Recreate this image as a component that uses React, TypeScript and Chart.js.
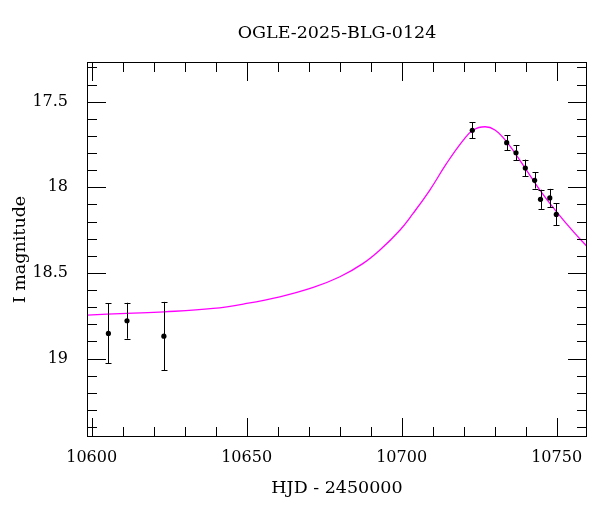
import { useEffect, useRef } from "react";
import { Chart, registerables } from "chart.js";

Chart.register(...registerables);

const TITLE = "OGLE-2025-BLG-0124";
const X_TITLE = "HJD - 2450000";
const Y_TITLE = "I magnitude";

// Observations (HJD - 2450000, I mag, 1-sigma error)
const obsHJD = [10605.4, 10611.4, 10623.3, 10722.8, 10733.9, 10736.9, 10739.9, 10742.9, 10744.8, 10747.8, 10749.9];
const obsMag = [18.853, 18.779, 18.869, 17.667, 17.739, 17.798, 17.887, 17.959, 18.07, 18.062, 18.158];
const obsErr = [0.175, 0.105, 0.2, 0.047, 0.044, 0.043, 0.049, 0.048, 0.056, 0.053, 0.064];

// Model light curve
const modelHJD = [10598.6, 10611.4, 10623.4, 10639.2, 10650.0, 10660.7, 10671.5, 10680.1, 10687.6, 10693.0, 10699.5, 10703.7, 10709.1, 10714.5, 10719.9, 10723.1, 10726.9, 10730.1, 10733.9, 10739.2, 10744.6, 10750.0, 10755.4, 10759.9];
const modelMag = [18.746, 18.736, 18.727, 18.707, 18.678, 18.639, 18.584, 18.522, 18.444, 18.366, 18.249, 18.152, 18.016, 17.86, 17.724, 17.665, 17.646, 17.665, 17.734, 17.87, 18.016, 18.143, 18.259, 18.347];

const xTickValues = [10600, 10650, 10700, 10750];
const yTickValues = [17.5, 18, 18.5, 19];

const X_MIN = 10598.5;
const X_MAX = 10759.8;
const Y_MIN = 17.268;
const Y_MAX = 19.458;

const FONT_FAMILY = "'DejaVu Serif', 'Liberation Serif', serif";

const framePlugin = {
  id: "frameTicks",
  afterDraw(chart: any) {
    const { ctx, chartArea: a, scales } = chart;
    const xs = scales.x;
    const ys = scales.y;
    ctx.save();
    ctx.strokeStyle = "#000";
    ctx.lineWidth = 1;
    const line = (x1: number, y1: number, x2: number, y2: number) => {
      ctx.beginPath();
      ctx.moveTo(x1, y1);
      ctx.lineTo(x2, y2);
      ctx.stroke();
    };
    ctx.strokeRect(a.left + 0.5, a.top + 0.5, a.right - a.left - 1, a.bottom - a.top - 1);
    for (let k = 10600; k <= 10760; k += 10) {
      if (k < X_MIN || k > X_MAX) continue;
      const px = Math.round(xs.getPixelForValue(k)) + 0.5;
      const len = k % 50 === 0 ? 19 : 10;
      line(px, a.bottom, px, a.bottom - len);
      line(px, a.top, px, a.top + len);
    }
    for (let k = 173; k <= 194; k++) {
      const v = k / 10;
      if (v < Y_MIN || v > Y_MAX) continue;
      const py = Math.round(ys.getPixelForValue(v)) + 0.5;
      const len = k % 5 === 0 ? 19 : 10;
      line(a.left, py, a.left + len, py);
      line(a.right, py, a.right - len, py);
    }
    ctx.fillStyle = "#000";
    ctx.font = `17.5px ${FONT_FAMILY}`;
    ctx.textAlign = "center";
    ctx.textBaseline = "middle";
    ctx.fillText(TITLE, (a.left + a.right) / 2, 33);
    ctx.restore();
  },
};

const errorBarPlugin = {
  id: "errorBars",
  afterDatasetsDraw(chart: any) {
    const { ctx, scales } = chart;
    const xs = scales.x;
    const ys = scales.y;
    ctx.save();
    ctx.strokeStyle = "#000";
    ctx.lineWidth = 1;
    for (let i = 0; i < obsHJD.length; i++) {
      const px = Math.round(xs.getPixelForValue(obsHJD[i])) + 0.5;
      const y1 = ys.getPixelForValue(obsMag[i] - obsErr[i]);
      const y2 = ys.getPixelForValue(obsMag[i] + obsErr[i]);
      ctx.beginPath();
      ctx.moveTo(px, y1);
      ctx.lineTo(px, y2);
      ctx.moveTo(px - 3, Math.round(y1) + 0.5);
      ctx.lineTo(px + 3, Math.round(y1) + 0.5);
      ctx.moveTo(px - 3, Math.round(y2) + 0.5);
      ctx.lineTo(px + 3, Math.round(y2) + 0.5);
      ctx.stroke();
    }
    ctx.restore();
  },
};

export default function App() {
  const ref = useRef<HTMLCanvasElement | null>(null);

  useEffect(() => {
    if (!ref.current) return;
    const font = { family: FONT_FAMILY, size: 16 };
    const titleFont = { family: FONT_FAMILY, size: 17.5 };
    const chart = new Chart(ref.current, {
      type: "line",
      data: {
        datasets: [
          {
            label: "data",
            type: "scatter",
            data: obsHJD.map((x, i) => ({ x, y: obsMag[i] })),
            backgroundColor: "#000",
            borderColor: "#000",
            borderWidth: 0,
            pointRadius: 2.6,
            showLine: false,
            order: 0,
          } as any,
          {
            label: "model",
            type: "line",
            data: modelHJD.map((x, i) => ({ x, y: modelMag[i] })),
            borderColor: "#ff00ff",
            borderWidth: 1.3,
            pointRadius: 0,
            fill: false,
            tension: 0.4,
            order: 1,
          } as any,
        ],
      },
      options: {
        responsive: false,
        animation: false,
        layout: { padding: { top: 62, right: 13, left: 0, bottom: 0 } },
        plugins: {
          legend: { display: false },
          tooltip: { enabled: false },
          title: { display: false },
        },
        scales: {
          x: {
            type: "linear",
            min: X_MIN,
            max: X_MAX,
            afterBuildTicks: (s: any) => {
              s.ticks = xTickValues.map((v) => ({ value: v }));
            },
            afterFit: (s: any) => {
              s.height = 75;
            },
            ticks: {
              callback: (v: any) => String(v),
              font,
              color: "#000",
              padding: 11,
              maxRotation: 0,
              autoSkip: false,
            },
            grid: { display: false, drawTicks: false },
            border: { display: false },
            title: {
              display: true,
              text: X_TITLE,
              font: titleFont,
              color: "#000",
              padding: { top: 0, bottom: 13 },
            },
          },
          y: {
            type: "linear",
            reverse: true,
            min: Y_MIN,
            max: Y_MAX,
            afterBuildTicks: (s: any) => {
              s.ticks = yTickValues.map((v) => ({ value: v }));
            },
            afterFit: (s: any) => {
              s.width = 87;
            },
            ticks: {
              callback: (v: any) => String(v),
              font,
              color: "#000",
              padding: 19,
              autoSkip: false,
            },
            grid: { display: false, drawTicks: false },
            border: { display: false },
            title: {
              display: true,
              text: Y_TITLE,
              font: titleFont,
              color: "#000",
              padding: { top: 10, bottom: 0 },
            },
          },
        },
      } as any,
      plugins: [framePlugin, errorBarPlugin],
    });
    return () => chart.destroy();
  }, []);

  return (
    <div style={{ position: "fixed", left: 0, top: 0, width: 600, height: 512, background: "#fff" }}>
      <canvas ref={ref} width={600} height={512} style={{ display: "block" }} />
    </div>
  );
}
